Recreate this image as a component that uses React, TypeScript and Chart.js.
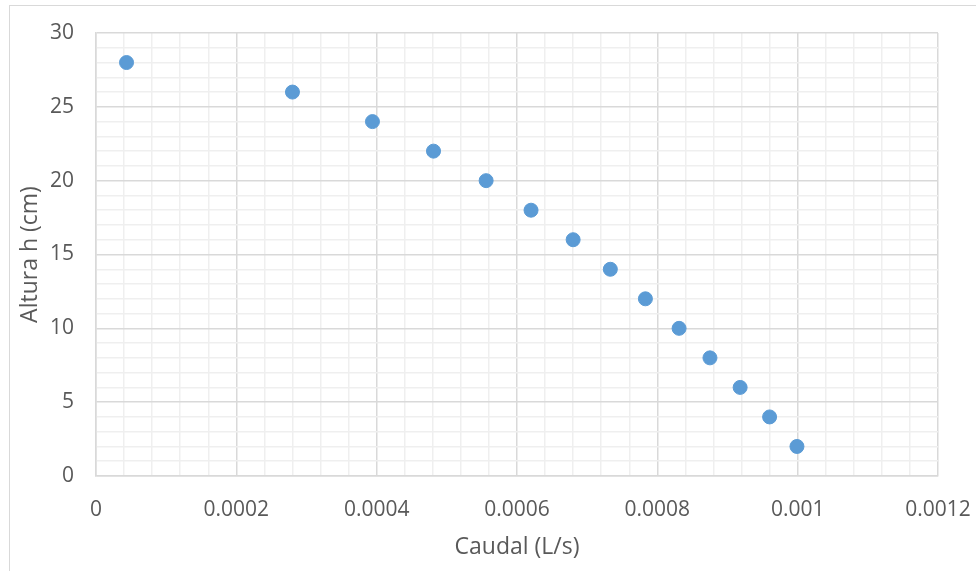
import React, { useEffect, useRef } from "react";
import { Chart, registerables } from "chart.js";

Chart.register(...registerables);

const caudal: number[] = [
  0.0000435, 0.000280, 0.000394, 0.000481, 0.000556, 0.000620, 0.000680,
  0.000733, 0.000783, 0.000831, 0.000875, 0.000918, 0.000960, 0.000999,
];
const altura: number[] = [28, 26, 24, 22, 20, 18, 16, 14, 12, 10, 8, 6, 4, 2];

const xMin = 0;
const xMax = 0.0012;
const xMajor = 0.0002;
const xMinor = 0.00004;
const yMin = 0;
const yMax = 30;
const yMajor = 5;
const yMinor = 1;

const xTitle = "Caudal (L/s)";
const yTitle = "Altura h (cm)";

const isMajor = (v: number, step: number) =>
  Math.abs(v / step - Math.round(v / step)) < 1e-6;

export default function App() {
  const ref = useRef<HTMLCanvasElement | null>(null);

  useEffect(() => {
    if (!ref.current) return;
    const font = "'Open Sans', 'Noto Sans', sans-serif";
    const chart = new Chart(ref.current, {
      type: "scatter",
      data: {
        datasets: [
          {
            data: caudal.map((x, i) => ({ x, y: altura[i] })),
            backgroundColor: "#5b9bd5",
            borderColor: "#5b9bd5",
            borderWidth: 1,
            pointRadius: 7,
          },
        ],
      },
      options: {
        animation: false,
        responsive: false,
        maintainAspectRatio: false,
        layout: { padding: { left: 0, top: 33, right: 38, bottom: 0 } },
        plugins: { legend: { display: false }, tooltip: { enabled: false } },
        scales: {
          x: {
            type: "linear",
            min: xMin,
            max: xMax,
            afterFit: (s: any) => {
              s.height = 95;
              s.paddingLeft = 0;
              s.paddingRight = 0;
            },
            ticks: {
              stepSize: xMinor,
              autoSkip: false,
              maxRotation: 0,
              padding: 21,
              color: "#595959",
              font: { family: font, size: 21 },
              callback: (v: any) => {
                const n = Number(v);
                if (!isMajor(n, xMajor)) return "";
                return String(Number(n.toFixed(4)));
              },
            },
            grid: {
              drawTicks: false,
              color: (c: any) =>
                isMajor(c.tick.value, xMajor) ? "#d9d9d9" : "#efefef",
              lineWidth: 1.5,
            },
            border: { color: "#d9d9d9", width: 1.5 },
            title: {
              display: true,
              text: xTitle,
              color: "#595959",
              font: { family: font, size: 23 },
              padding: { top: 0, bottom: 10 },
            },
          },
          y: {
            type: "linear",
            min: yMin,
            max: yMax,
            afterFit: (s: any) => {
              s.width = 96;
              s.paddingTop = 0;
              s.paddingBottom = 0;
            },
            ticks: {
              stepSize: yMinor,
              autoSkip: false,
              padding: 22,
              color: "#595959",
              font: { family: font, size: 21 },
              callback: (v: any) => {
                const n = Number(v);
                if (!isMajor(n, yMajor)) return "";
                return String(n);
              },
            },
            grid: {
              drawTicks: false,
              color: (c: any) =>
                isMajor(c.tick.value, yMajor) ? "#d9d9d9" : "#efefef",
              lineWidth: 1.5,
            },
            border: { color: "#d9d9d9", width: 1.5 },
            title: {
              display: true,
              text: yTitle,
              color: "#595959",
              font: { family: font, size: 23 },
              padding: { top: 17, bottom: 0 },
            },
          },
        },
      },
    });
    return () => chart.destroy();
  }, []);

  return (
    <div
      style={{
        position: "absolute",
        left: 0,
        top: 0,
        width: 976,
        height: 571,
        background: "#ffffff",
        overflow: "hidden",
      }}
    >
      <div
        style={{
          position: "absolute",
          left: 9,
          top: 5,
          width: 1000,
          height: 600,
          borderTop: "1.5px solid #d9d9d9",
          borderLeft: "1.5px solid #d9d9d9",
        }}
      />
      <canvas
        ref={ref}
        width={976}
        height={571}
        style={{ position: "absolute", left: 0, top: 0, width: 976, height: 571 }}
      />
    </div>
  );
}
